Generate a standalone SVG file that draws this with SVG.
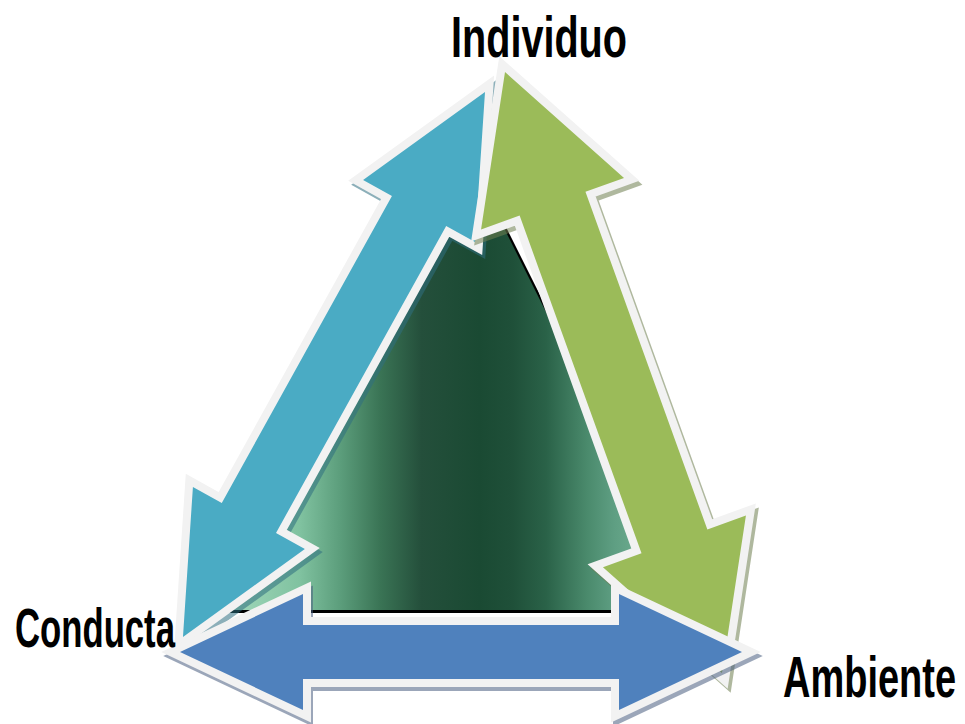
<svg xmlns="http://www.w3.org/2000/svg" xmlns:xlink="http://www.w3.org/1999/xlink" width="965" height="724" viewBox="0 0 965 724">
<style>
.arrow{stroke:#f2f2f2;stroke-width:16;stroke-linejoin:miter;stroke-miterlimit:6;paint-order:stroke}
.shadow{stroke-width:16;stroke-linejoin:miter;stroke-miterlimit:6;opacity:0.55}
.teal{fill:#4aabc4}
.teal-sh{fill:#2f6f80;stroke:#2f6f80}
.green{fill:#9bbb59}
.green-sh{fill:#6f7f50;stroke:#6f7f50}
.blue{fill:#4f81bd}
.blue-sh{fill:#4a5f80;stroke:#4a5f80}
.label{font-family:"Liberation Sans",Arial,sans-serif;font-weight:bold;font-size:58px;fill:#000}
</style>
<defs>
<linearGradient id="triG" gradientUnits="userSpaceOnUse" x1="215" y1="0" x2="695" y2="0">
<stop offset="0" stop-color="#a8dcc0"/>
<stop offset="0.177" stop-color="#80c2a0"/>
<stop offset="0.26" stop-color="#5c9e7c"/>
<stop offset="0.344" stop-color="#3a7455"/>
<stop offset="0.43" stop-color="#244f3b"/>
<stop offset="0.55" stop-color="#1a4a33"/>
<stop offset="0.62" stop-color="#1f5039"/>
<stop offset="0.69" stop-color="#2a6248"/>
<stop offset="0.775" stop-color="#4a8a6c"/>
<stop offset="0.83" stop-color="#5e9e82"/>
<stop offset="1" stop-color="#8cc8aa"/>
</linearGradient>
<polygon id="tealShape" points="0,0 136,-64 136,-31 487,-31 487,-64 623,0 487,64 487,31 136,31 136,64"/>
<polygon id="greenShape" points="0,0 140,-76 140,-35 499,-35 499,-76 639,0 499,76 499,35 140,35 140,76"/>
<polygon id="blueShape" points="0,0 123,-58 123,-27 439,-27 439,-58 562,0 439,58 439,27 123,27 123,58"/>
</defs>
<rect width="965" height="724" fill="#ffffff"/>
<g id="center-triangle">
<polygon points="480,180 695,610 215,610" fill="#000" transform="translate(4,3)"/>
<polygon points="480,180 695,610 215,610" fill="url(#triG)"/>
</g>
<rect x="233" y="468" width="3" height="6" fill="#a00000"/>
<g id="connectors">
<g id="arrow-individuo-conducta">
<use xlink:href="#tealShape" href="#tealShape" class="shadow teal-sh" transform="translate(488,96) rotate(119)"/>
<use xlink:href="#tealShape" href="#tealShape" class="arrow teal" transform="translate(485,92) rotate(119)"/>
</g>
<g id="arrow-individuo-ambiente">
<use xlink:href="#greenShape" href="#greenShape" class="shadow green-sh" transform="translate(508,76) rotate(70.15)"/>
<use xlink:href="#greenShape" href="#greenShape" class="arrow green" transform="translate(505,72) rotate(70.15)"/>
</g>
<g id="arrow-conducta-ambiente">
<use xlink:href="#blueShape" href="#blueShape" class="shadow blue-sh" transform="translate(182,656)"/>
<use xlink:href="#blueShape" href="#blueShape" class="arrow blue" transform="translate(180,652)"/>
</g>
</g>
<g id="node-individuo">
<text class="label" transform="translate(451,57) scale(0.683,1)">Individuo</text>
</g>
<g id="node-conducta">
<text class="label" style="font-size:55px" transform="translate(15,647) scale(0.631,1)">Conducta</text>
</g>
<g id="node-ambiente">
<text class="label" transform="translate(783,697) scale(0.655,1)">Ambiente</text>
</g>
</svg>
